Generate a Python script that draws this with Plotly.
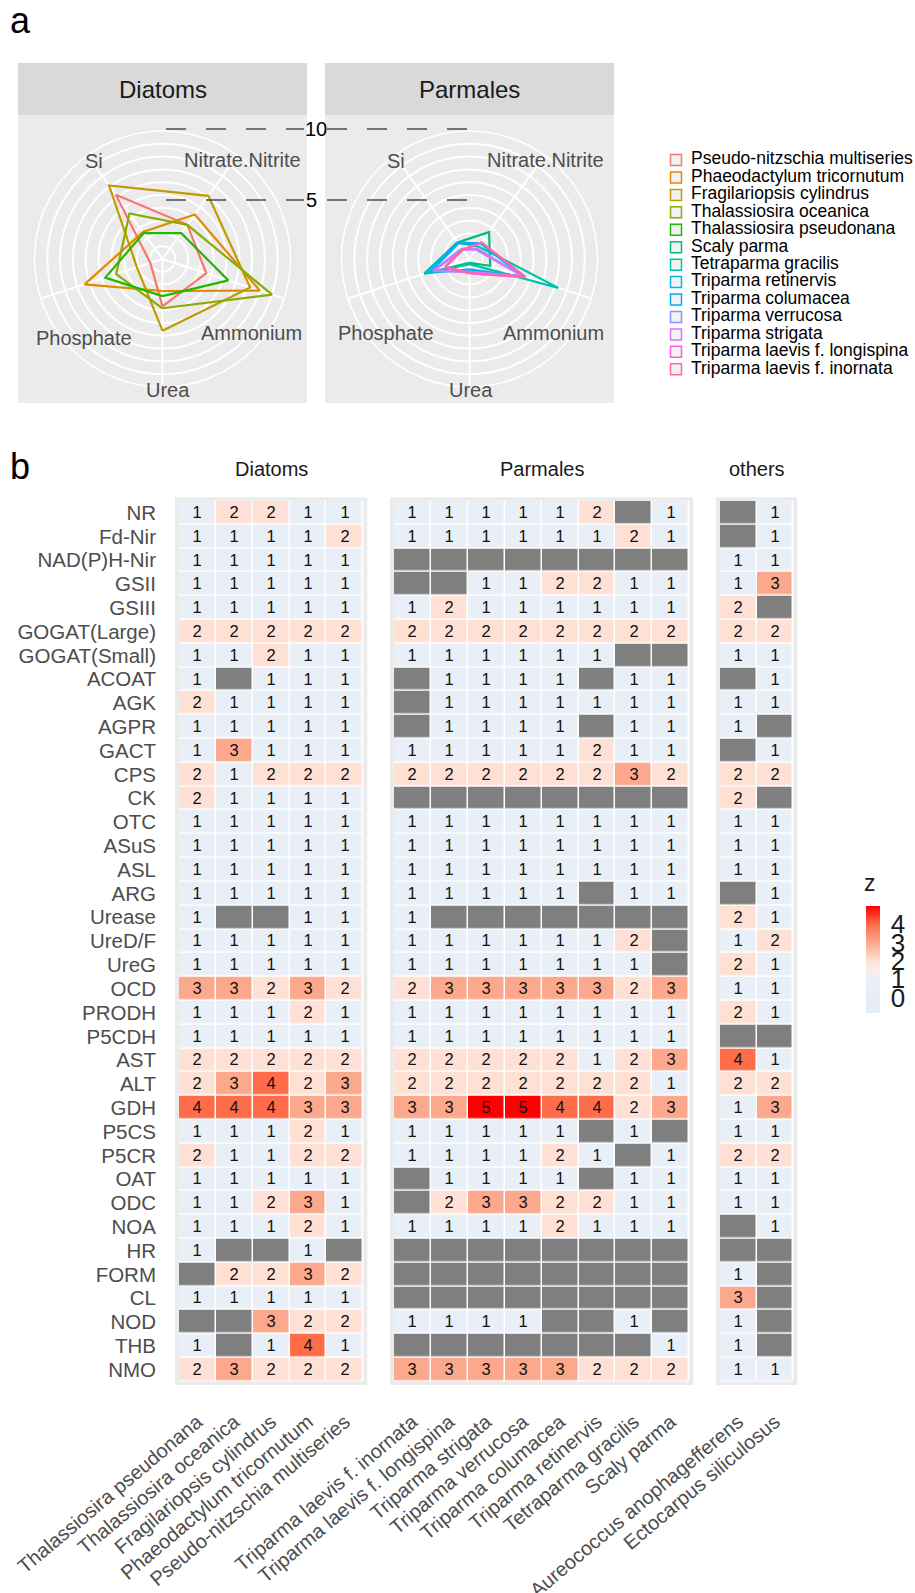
import plotly.graph_objects as go

W, H = 915, 1593
def px(x): return min(1.0, max(0.0, x / W))
def py(y): return min(1.0, max(0.0, 1 - y / H))

FONT = "Liberation Sans, Arial, sans-serif"
N = None

# ---------------- panel a data ----------------
nutrients = ["Urea", "Ammonium", "Nitrate.Nitrite", "Si", "Phosphate"]
species = ["Pseudo-nitzschia multiseries", "Phaeodactylum tricornutum", "Fragilariopsis cylindrus",
           "Thalassiosira oceanica", "Thalassiosira pseudonana", "Scaly parma", "Tetraparma gracilis",
           "Triparma retinervis", "Triparma columacea", "Triparma verrucosa", "Triparma strigata",
           "Triparma laevis f. longispina", "Triparma laevis f. inornata"]
colors = ["#F8766D", "#E18A00", "#BE9C00", "#8CAB00", "#24B700", "#00BE70", "#00C1AB",
          "#00BBDA", "#00ACFC", "#8B93FF", "#D575FE", "#F962DD", "#FF65AC"]
group = ["Diatoms"] * 5 + ["Parmales"] * 8
# values in nutrient order: Urea, Ammonium, Nitrate.Nitrite, Si, Phosphate
uptake = [
    [3.7, 3.6, 3.3, 6.2, 1.0],
    [2.5, 8.0, 4.3, 2.6, 6.4],
    [5.6, 7.2, 6.1, 7.1, 2.1],
    [3.85, 9.0, 3.3, 4.4, 3.8],
    [2.9, 5.4, 2.5, 2.5, 4.7],
    [0.3, 1.7, 2.6, 1.6, 3.7],
    [0.4, 7.3, 1.2, 1.6, 3.7],
    [0.8, 4.5, 1.5, 1.6, 3.6],
    [0.9, 4.4, 1.5, 1.5, 3.2],
    [1.0, 4.4, 1.0, 1.0, 3.0],
    [1.0, 4.4, 0.9, 0.9, 2.9],
    [1.1, 4.6, 1.6, 0.9, 2.0],
    [1.1, 4.6, 1.6, 0.9, 2.0],
]

# ---------------- panel b data ----------------
genes = ["NR", "Fd-Nir", "NAD(P)H-Nir", "GSII", "GSIII", "GOGAT(Large)", "GOGAT(Small)", "ACOAT", "AGK",
         "AGPR", "GACT", "CPS", "CK", "OTC", "ASuS", "ASL", "ARG", "Urease", "UreD/F", "UreG", "OCD",
         "PRODH", "P5CDH", "AST", "ALT", "GDH", "P5CS", "P5CR", "OAT", "ODC", "NOA", "HR", "FORM", "CL",
         "NOD", "THB", "NMO"]
diatom_sp = ["Thalassiosira pseudonana", "Thalassiosira oceanica", "Fragilariopsis cylindrus",
             "Phaeodactylum tricornutum", "Pseudo-nitzschia multiseries"]
parmales_sp = ["Triparma laevis f. inornata", "Triparma laevis f. longispina", "Triparma strigata",
               "Triparma verrucosa", "Triparma columacea", "Triparma retinervis", "Tetraparma gracilis",
               "Scaly parma"]
others_sp = ["Aureococcus anophagefferens", "Ectocarpus siliculosus"]

diatom_z = [
    [1, 2, 2, 1, 1], [1, 1, 1, 1, 2], [1, 1, 1, 1, 1], [1, 1, 1, 1, 1], [1, 1, 1, 1, 1],
    [2, 2, 2, 2, 2], [1, 1, 2, 1, 1], [1, N, 1, 1, 1], [2, 1, 1, 1, 1], [1, 1, 1, 1, 1],
    [1, 3, 1, 1, 1], [2, 1, 2, 2, 2], [2, 1, 1, 1, 1], [1, 1, 1, 1, 1], [1, 1, 1, 1, 1],
    [1, 1, 1, 1, 1], [1, 1, 1, 1, 1], [1, N, N, 1, 1], [1, 1, 1, 1, 1], [1, 1, 1, 1, 1],
    [3, 3, 2, 3, 2], [1, 1, 1, 2, 1], [1, 1, 1, 1, 1], [2, 2, 2, 2, 2], [2, 3, 4, 2, 3],
    [4, 4, 4, 3, 3], [1, 1, 1, 2, 1], [2, 1, 1, 2, 2], [1, 1, 1, 1, 1], [1, 1, 2, 3, 1],
    [1, 1, 1, 2, 1], [1, N, N, 1, N], [N, 2, 2, 3, 2], [1, 1, 1, 1, 1], [N, N, 3, 2, 2],
    [1, N, 1, 4, 1], [2, 3, 2, 2, 2],
]
parmales_z = [
    [1, 1, 1, 1, 1, 2, N, 1], [1, 1, 1, 1, 1, 1, 2, 1], [N, N, N, N, N, N, N, N],
    [N, N, 1, 1, 2, 2, 1, 1], [1, 2, 1, 1, 1, 1, 1, 1], [2, 2, 2, 2, 2, 2, 2, 2],
    [1, 1, 1, 1, 1, 1, N, N], [N, 1, 1, 1, 1, N, 1, 1], [N, 1, 1, 1, 1, 1, 1, 1],
    [N, 1, 1, 1, 1, N, 1, 1], [1, 1, 1, 1, 1, 2, 1, 1], [2, 2, 2, 2, 2, 2, 3, 2],
    [N, N, N, N, N, N, N, N], [1, 1, 1, 1, 1, 1, 1, 1], [1, 1, 1, 1, 1, 1, 1, 1],
    [1, 1, 1, 1, 1, 1, 1, 1], [1, 1, 1, 1, 1, N, 1, 1], [1, N, N, N, N, N, N, N],
    [1, 1, 1, 1, 1, 1, 2, N], [1, 1, 1, 1, 1, 1, 1, N], [2, 3, 3, 3, 3, 3, 2, 3],
    [1, 1, 1, 1, 1, 1, 1, 1], [1, 1, 1, 1, 1, 1, 1, 1], [2, 2, 2, 2, 2, 1, 2, 3],
    [2, 2, 2, 2, 2, 2, 2, 1], [3, 3, 5, 5, 4, 4, 2, 3], [1, 1, 1, 1, 1, N, 1, N],
    [1, 1, 1, 1, 2, 1, N, 1], [N, 1, 1, 1, 1, N, 1, 1], [N, 2, 3, 3, 2, 2, 1, 1],
    [1, 1, 1, 1, 2, 1, 1, 1], [N, N, N, N, N, N, N, N], [N, N, N, N, N, N, N, N],
    [N, N, N, N, N, N, N, N], [1, 1, 1, 1, N, N, 1, N], [N, N, N, N, N, N, N, 1],
    [3, 3, 3, 3, 3, 2, 2, 2],
]
others_z = [
    [N, 1], [N, 1], [1, 1], [1, 3], [2, N], [2, 2], [1, 1], [N, 1], [1, 1], [1, N], [N, 1],
    [2, 2], [2, N], [1, 1], [1, 1], [1, 1], [N, 1], [2, 1], [1, 2], [2, 1], [1, 1], [2, 1],
    [N, N], [4, 1], [2, 2], [1, 3], [1, 1], [2, 2], [1, 1], [1, 1], [N, 1], [N, N], [1, N],
    [3, N], [1, N], [1, N], [1, 1],
]
facet_names = ["Diatoms", "Parmales", "others"]
cbar_ticks = [0, 1, 2, 3, 4]

# ---------------- figure ----------------
fig = go.Figure()

# radar polygons
for sp, col, grp, vals in zip(species, colors, group, uptake):
    fig.add_trace(go.Scatterpolar(
        r=vals + vals[:1], theta=nutrients + nutrients[:1], mode="lines",
        line=dict(color=col, width=2.2), showlegend=False, hoverinfo="skip",
        subplot="polar" if grp == "Diatoms" else "polar2"))

# legend (custom, on a hidden axis)
fig.add_trace(go.Scatter(
    x=[10] * len(species), y=species, mode="markers", xaxis="x4", yaxis="y4",
    marker=dict(symbol="square", size=11, color="#f2f2f2", line=dict(color=colors, width=1.5)),
    showlegend=False, hoverinfo="skip", cliponaxis=False))
fig.add_trace(go.Scatter(
    x=[25] * len(species), y=species, mode="text", text=species, textposition="middle right",
    textfont=dict(size=17.5, color="#000000", family=FONT), xaxis="x4", yaxis="y4",
    showlegend=False, hoverinfo="skip", cliponaxis=False))

# heatmaps
cs = [[0.0, "#e6ecf4"], [0.3162, "#e8eff7"], [0.40, "#fbeee9"], [0.4872, "#fee0d5"],
      [0.6581, "#fca88c"], [0.8291, "#ff6c4a"], [1.0, "#ff0000"]]
axes = ["x", "x2", "x3"]
for cols, z, ax in zip([diatom_sp, parmales_sp, others_sp], [diatom_z, parmales_z, others_z], axes):
    txt = [["" if v is None else str(v) for v in row] for row in z]
    fig.add_trace(go.Heatmap(
        x=cols, y=genes, z=z, text=txt, texttemplate="%{text}",
        textfont=dict(size=16.5, color="#111111", family=FONT),
        coloraxis="coloraxis", xgap=1.5, ygap=1.5, xaxis=ax, yaxis="y",
        hoverongaps=False))
    zna = [[1 if v is None else None for v in row] for row in z]
    fig.add_trace(go.Heatmap(
        x=cols, y=genes, z=zna, colorscale=[[0, "#7f7f7f"], [1, "#7f7f7f"]], showscale=False,
        xgap=1.5, ygap=1.5, xaxis=ax, yaxis="y", hoverinfo="skip"))

shapes = []
# panel a backgrounds and strips
for x0, x1 in [(18, 307), (325, 614)]:
    shapes.append(dict(type="rect", xref="paper", yref="paper", x0=px(x0), x1=px(x1),
                       y0=py(115), y1=py(63), fillcolor="#d9d9d9", line=dict(width=0), layer="below"))
    shapes.append(dict(type="rect", xref="paper", yref="paper", x0=px(x0), x1=px(x1),
                       y0=py(403), y1=py(115), fillcolor="#ebebeb", line=dict(width=0), layer="below"))
# panel b backgrounds
cell_x = [(179, 363.3), (394, 689.3), (720, 793.3)]
cell_y = (500.7, 1381.5)
for x0, x1 in cell_x:
    shapes.append(dict(type="rect", xref="paper", yref="paper", x0=px(x0 - 4), x1=px(x1 + 4),
                       y0=py(cell_y[1] + 3.5), y1=py(cell_y[0] - 3.5), fillcolor="#ebebeb",
                       line=dict(width=0), layer="below"))
    shapes.append(dict(type="rect", xref="paper", yref="paper", x0=px(x0), x1=px(x1),
                       y0=py(cell_y[1]), y1=py(cell_y[0]), fillcolor="#ffffff",
                       line=dict(width=0), layer="below"))
# dashed radial reference lines
for yy in [129, 200]:
    for x0, x1 in [(166, 304), (327, 467)]:
        shapes.append(dict(type="line", xref="paper", yref="paper", x0=px(x0), x1=px(x1),
                           y0=py(yy), y1=py(yy), line=dict(color="#4d4d4d", width=1.5, dash="20px,20px"),
                           layer="above"))

ann = []
def A(text, x, y, size, color="#4d4d4d", **kw):
    d = dict(text=text, x=px(x), y=py(y), xref="paper", yref="paper", showarrow=False,
             font=dict(size=size, color=color, family=FONT), xanchor="center", yanchor="middle")
    d.update(kw)
    ann.append(d)

A("a", 20, 20, 36, "#000000")
A("b", 20, 467, 36, "#000000")
A("Diatoms", 162.5, 89, 24, "#1a1a1a")
A("Parmales", 469.5, 89, 24, "#1a1a1a")
A("10", 315.5, 129, 20, "#000000")
A("5", 311, 200, 20, "#000000")
A("z", 870, 883, 23, "#1a1a1a")
lab_pos_d = {"Si": (93.5, 161), "Nitrate.Nitrite": (242, 160), "Ammonium": (251.5, 333),
             "Phosphate": (83.5, 338), "Urea": (168, 390)}
lab_pos_p = {"Si": (396, 161), "Nitrate.Nitrite": (545, 160), "Ammonium": (553.5, 333),
             "Phosphate": (385.5, 333), "Urea": (470.5, 390)}
for k, (x, y) in lab_pos_d.items():
    A(k, x, y, 20)
for k, (x, y) in lab_pos_p.items():
    A(k, x, y, 20)
for name, ax in zip(facet_names, axes):
    ann.append(dict(text=name, xref=ax + " domain", x=0.5, yref="paper", y=py(469), showarrow=False,
                    font=dict(size=20, color="#1a1a1a", family=FONT), xanchor="center", yanchor="middle"))

polar_common = dict(
    bgcolor="#ebebeb",
    radialaxis=dict(range=[0, 10], dtick=1, showticklabels=False, ticks="", showline=False,
                    gridcolor="white", gridwidth=1.6),
    angularaxis=dict(rotation=270, direction="counterclockwise", categoryorder="array",
                     categoryarray=nutrients, showticklabels=False, ticks="", gridcolor="white",
                     gridwidth=1.6, showline=True, linecolor="white", linewidth=1.6),
)
R = 128
fig.update_layout(
    polar=dict(domain=dict(x=[px(162.5 - R), px(162.5 + R)], y=[py(259 + R), py(259 - R)]), **polar_common),
    polar2=dict(domain=dict(x=[px(469.5 - R), px(469.5 + R)], y=[py(259 + R), py(259 - R)]), **polar_common),
)

xcommon = dict(tickangle=-40, tickfont=dict(size=20, color="#4d4d4d", family=FONT), ticks="",
               showgrid=False, zeroline=False, showline=False, ticklabelstandoff=24, anchor="y",
               automargin=False)
fig.update_layout(
    width=W, height=H, autosize=False, margin=dict(l=0, r=0, t=0, b=0, autoexpand=False),
    paper_bgcolor="white", plot_bgcolor="rgba(0,0,0,0)", font=dict(family=FONT),
    showlegend=False,
    xaxis=dict(domain=[px(179), px(363.3)], categoryorder="array", categoryarray=diatom_sp,
               tickmode="array", tickvals=diatom_sp, ticktext=diatom_sp, **xcommon),
    xaxis2=dict(domain=[px(394), px(689.3)], categoryorder="array", categoryarray=parmales_sp,
                tickmode="array", tickvals=parmales_sp, ticktext=parmales_sp, **xcommon),
    xaxis3=dict(domain=[px(720), px(793.3)], categoryorder="array", categoryarray=others_sp,
                tickmode="array", tickvals=others_sp, ticktext=others_sp, **xcommon),
    yaxis=dict(domain=[py(cell_y[1]), py(cell_y[0])], categoryorder="array", categoryarray=genes,
               tickmode="array", tickvals=genes, ticktext=genes,
               range=[len(genes) - 0.5, -0.5], tickfont=dict(size=20.5, color="#4d4d4d", family=FONT),
               ticks="", showgrid=False, zeroline=False, ticklabelstandoff=22, anchor="x",
               automargin=False),
    xaxis4=dict(domain=[px(666), px(915)], range=[0, 249], visible=False, anchor="y4", automargin=False),
    yaxis4=dict(domain=[py(378), py(151.3)], categoryorder="array", categoryarray=species,
                range=[len(species) - 0.5, -0.5], visible=False, anchor="x4", automargin=False),
    coloraxis=dict(
        cmin=-0.85, cmax=5, colorscale=cs,
        colorbar=dict(
            thickness=14, thicknessmode="pixels", len=107, lenmode="pixels",
            x=px(866), xanchor="left", xpad=0, y=py(959.5), yanchor="middle", ypad=0,
            tickmode="array", tickvals=cbar_ticks, ticktext=[str(t) for t in cbar_ticks],
            tickfont=dict(size=26, color="#1a1a1a", family=FONT),
            ticks="outside", ticklen=6, tickcolor="rgba(0,0,0,0)", outlinewidth=0)),
    shapes=shapes, annotations=ann,
)

# remove the default 8px page margin so the 915x1593 figure fills the window exactly
fig.write_html("out.html", config={"displayModeBar": False},
               post_script="document.body.style.margin='0px';")
